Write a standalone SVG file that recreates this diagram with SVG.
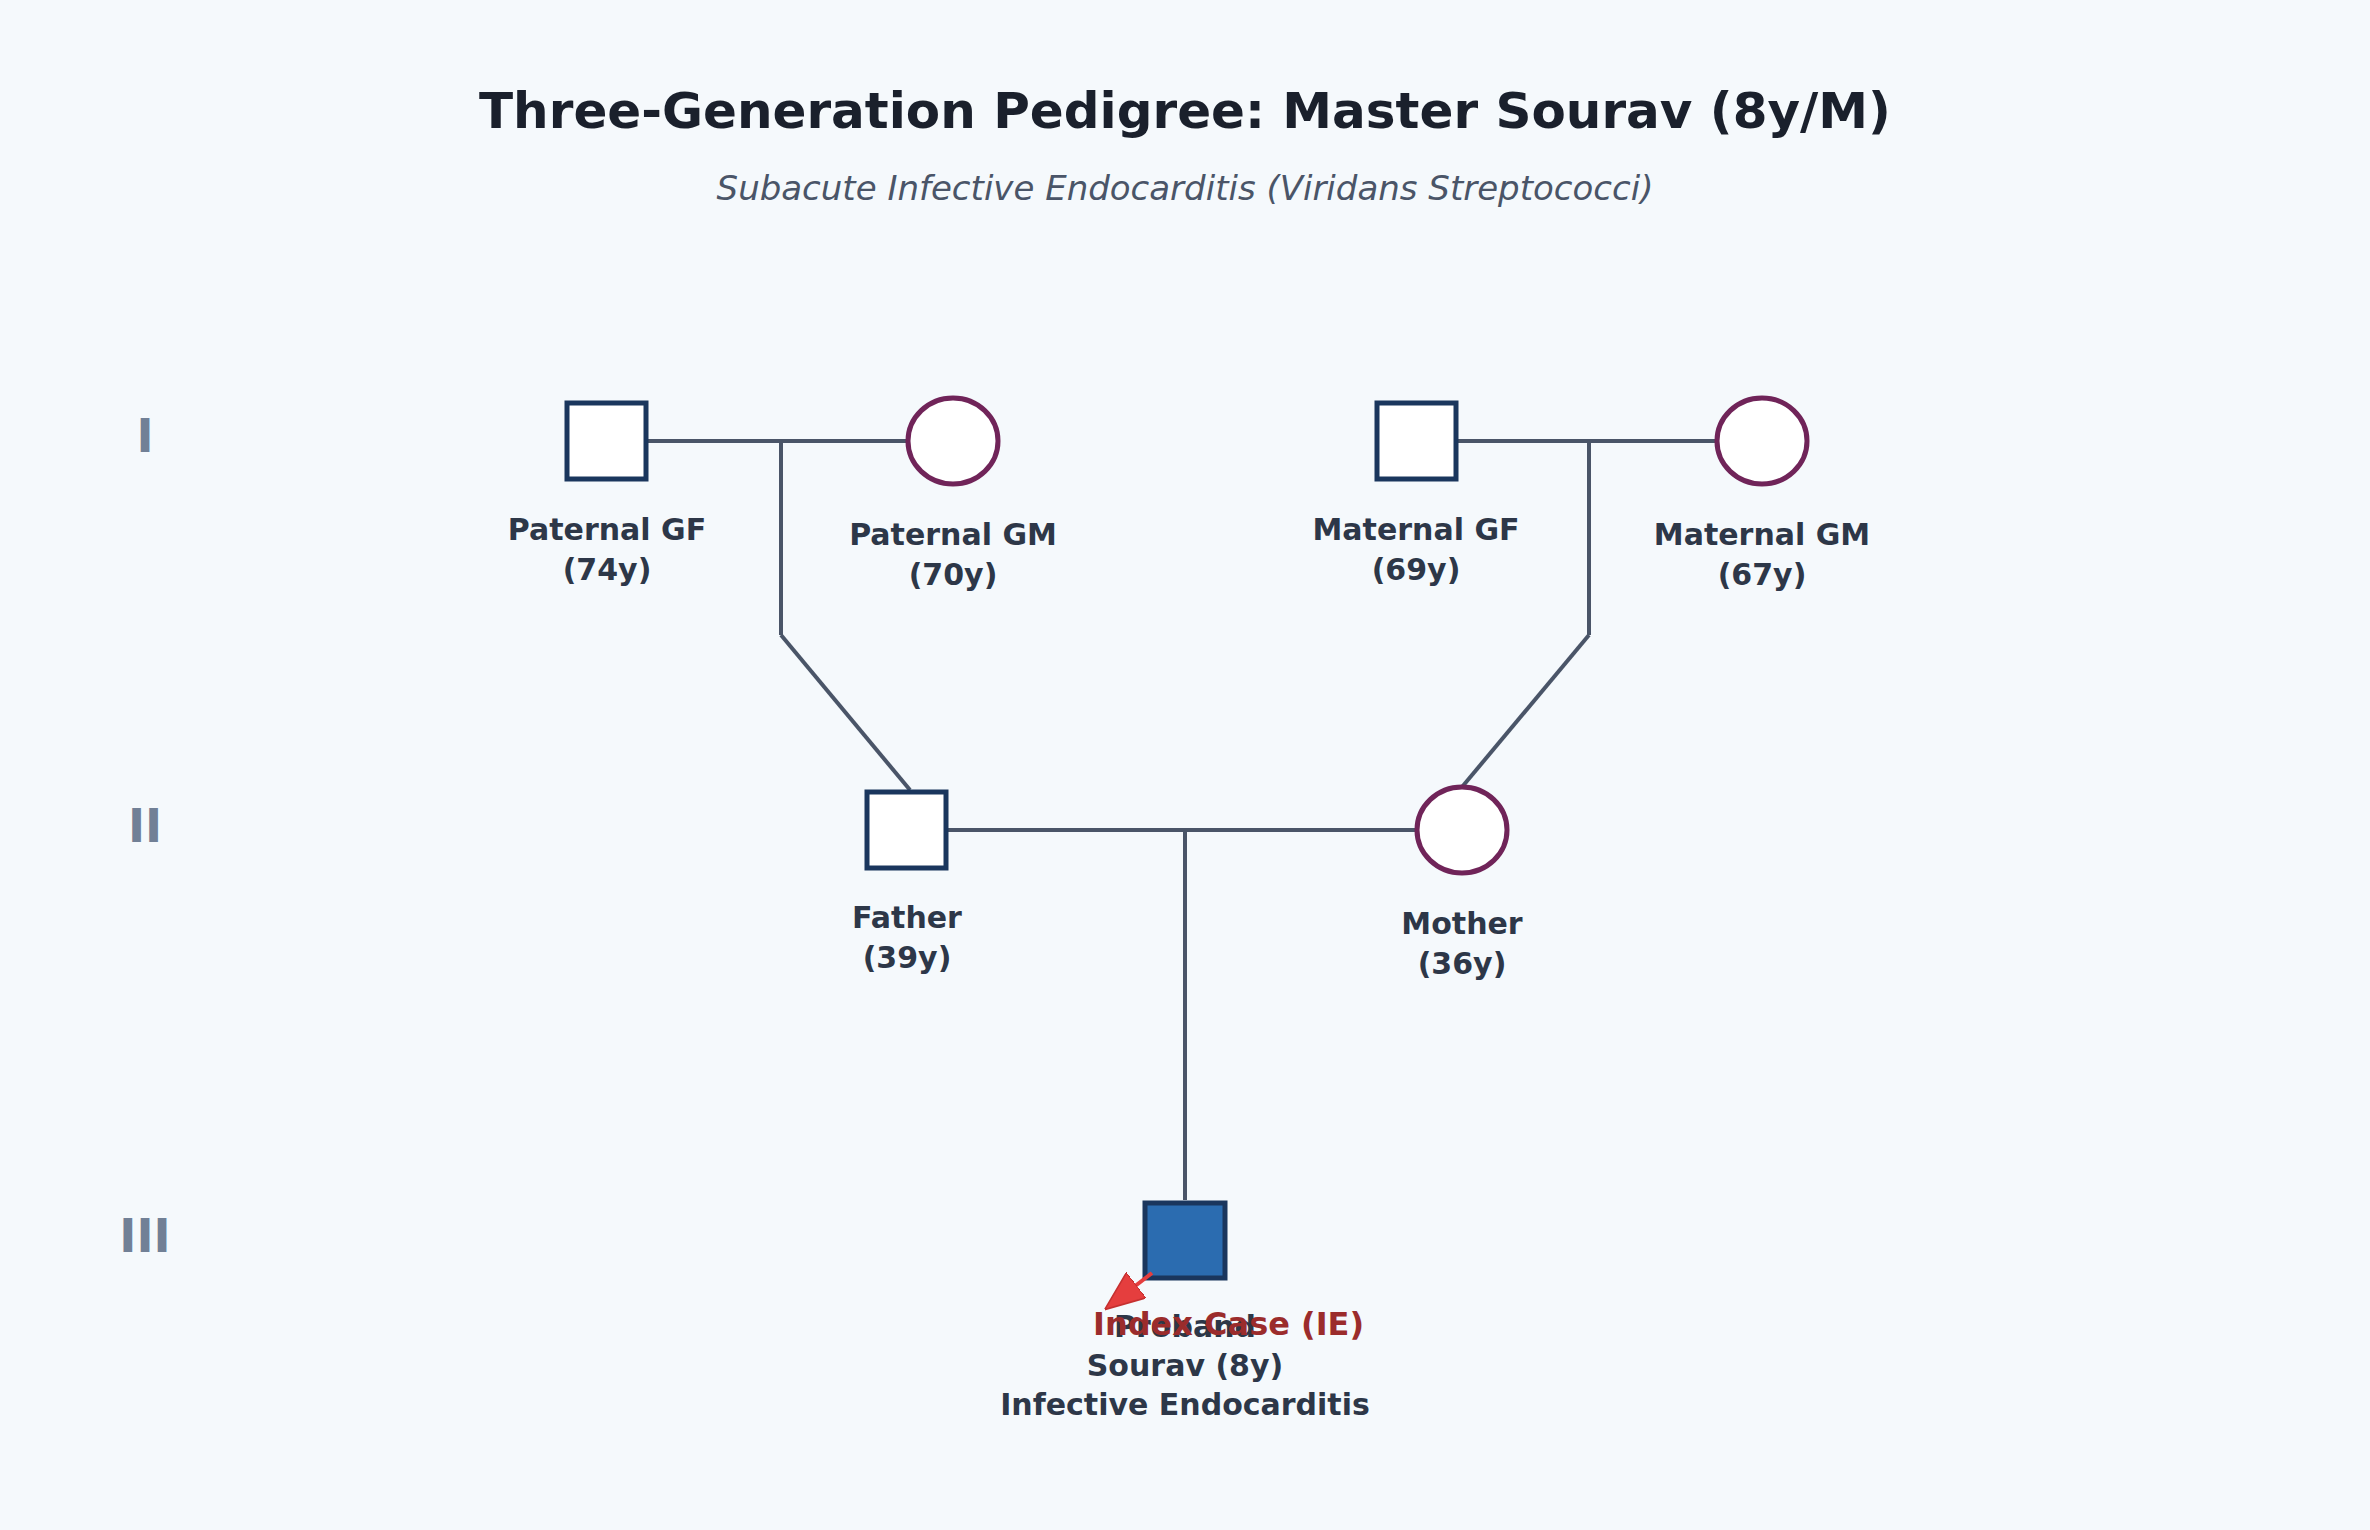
<svg xmlns="http://www.w3.org/2000/svg" width="2370" height="1530" viewBox="0 0 2370 1530">
<defs>
<style>
.t{font-family:"DejaVu Sans",sans-serif;font-weight:bold;fill:#1a202c;text-anchor:middle}
.lb{font-family:"DejaVu Sans",sans-serif;font-weight:bold;font-size:30px;fill:#2d3748;text-anchor:middle}
.gen{font-family:"DejaVu Sans",sans-serif;font-weight:bold;font-size:46px;fill:#718096;text-anchor:middle}
.m{fill:#fff;stroke:#1a365d;stroke-width:5}
.f{fill:#fff;stroke:#702459;stroke-width:5}
.c{stroke:#4a5568;stroke-width:4;fill:none}
</style>
<marker id="ah" markerWidth="10" markerHeight="8" refX="2" refY="4" orient="auto" markerUnits="strokeWidth">
<path d="M0,0 L10,4 L0,8 Z" fill="#e53e3e" stroke="#c53030" stroke-width="0.4"/>
</marker>
</defs>
<rect width="2370" height="1530" fill="#f5f9fc"/>
<text class="t" x="1185" y="128" font-size="50">Three-Generation Pedigree: Master Sourav (8y/M)</text>
<text x="1185" y="200" font-family="DejaVu Sans,sans-serif" font-style="italic" font-size="34" fill="#4a5568" text-anchor="middle">Subacute Infective Endocarditis (Viridans Streptococci)</text>
<text class="gen" x="145" y="452">I</text>
<text class="gen" x="145" y="842">II</text>
<text class="gen" x="145" y="1252">III</text>
<g id="connectors">
<line class="c" x1="641" y1="441" x2="908" y2="441"/>
<line class="c" x1="781" y1="441" x2="781" y2="635"/>
<line class="c" x1="781" y1="635" x2="910" y2="790"/>
<line class="c" x1="1456" y1="441" x2="1717" y2="441"/>
<line class="c" x1="1589" y1="441" x2="1589" y2="635"/>
<line class="c" x1="1589" y1="635" x2="1462" y2="787"/>
<line class="c" x1="947" y1="830" x2="1417" y2="830"/>
<line class="c" x1="1185" y1="830" x2="1185" y2="1200"/>
</g>
<g id="pgf"><rect class="m" x="567" y="403" width="79" height="76"/><text class="lb" x="607" y="540">Paternal GF</text><text class="lb" x="607" y="580">(74y)</text></g>
<g id="pgm"><ellipse class="f" cx="953" cy="441" rx="45" ry="43"/><text class="lb" x="953" y="545">Paternal GM</text><text class="lb" x="953" y="585">(70y)</text></g>
<g id="mgf"><rect class="m" x="1377" y="403" width="79" height="76"/><text class="lb" x="1416" y="540">Maternal GF</text><text class="lb" x="1416" y="580">(69y)</text></g>
<g id="mgm"><ellipse class="f" cx="1762" cy="441" rx="45" ry="43"/><text class="lb" x="1762" y="545">Maternal GM</text><text class="lb" x="1762" y="585">(67y)</text></g>
<g id="father"><rect class="m" x="867" y="792" width="79" height="76"/><text class="lb" x="907" y="928">Father</text><text class="lb" x="907" y="968">(39y)</text></g>
<g id="mother"><ellipse class="f" cx="1462" cy="830" rx="45" ry="43"/><text class="lb" x="1462" y="934">Mother</text><text class="lb" x="1462" y="974">(36y)</text></g>
<g id="proband"><rect x="1145" y="1203" width="80" height="75" fill="#2b6cb0" stroke="#1a365d" stroke-width="5"/>
<line x1="1152" y1="1273" x2="1130" y2="1290" stroke="#e53e3e" stroke-width="4" marker-end="url(#ah)"/>
<text class="lb" x="1185" y="1337">Proband</text><text class="lb" x="1185" y="1376">Sourav (8y)</text><text class="lb" x="1185" y="1415">Infective Endocarditis</text>
<text x="1093" y="1335" font-family="DejaVu Sans,sans-serif" font-weight="bold" font-size="32" fill="#9b2c2c">Index Case (IE)</text></g>
</svg>
